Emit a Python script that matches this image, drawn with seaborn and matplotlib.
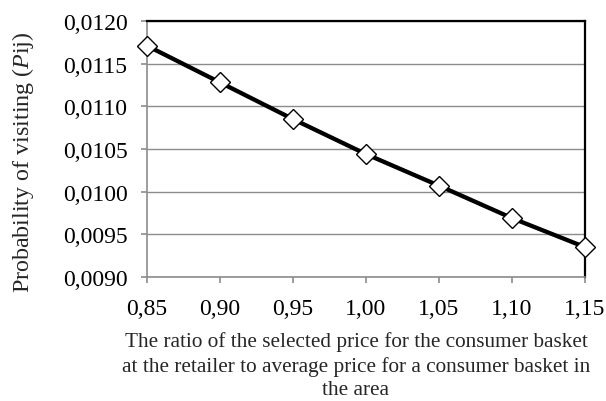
import matplotlib
matplotlib.use("Agg")
import matplotlib.pyplot as plt
import seaborn as sns
import pandas as pd
from matplotlib.ticker import FuncFormatter, MultipleLocator

price_ratio = [0.85, 0.90, 0.95, 1.00, 1.05, 1.10, 1.15]
probability = [0.01171, 0.01128, 0.01085, 0.01044, 0.01007, 0.00969, 0.00935]

sns.set_theme(style="white")
plt.rcParams['font.family'] = ['Liberation Serif', 'DejaVu Serif']
plt.rcParams['mathtext.fontset'] = 'custom'
plt.rcParams['mathtext.it'] = 'Liberation Serif:italic'
plt.rcParams['mathtext.rm'] = 'Liberation Serif'

df = pd.DataFrame({"ratio": price_ratio, "prob": probability})

fig = plt.figure(figsize=(6.06, 4.02), dpi=100)
ax = fig.add_axes([147/606, 1 - 278/402, (585-147)/606, (278-22)/402])

sns.lineplot(data=df, x="ratio", y="prob", ax=ax, color="black", linewidth=3.1,
             marker="D", markersize=10.2, markerfacecolor="white",
             markeredgecolor="black", markeredgewidth=1.0, zorder=3,
             clip_on=False)

ax.set_xlim(0.85, 1.15)
ax.set_ylim(0.0090, 0.0120)
ax.xaxis.set_major_locator(MultipleLocator(0.05))
ax.yaxis.set_major_locator(MultipleLocator(0.0005))
ax.xaxis.set_major_formatter(FuncFormatter(lambda v, p: f"{v:.2f}".replace(".", ",")))
ax.yaxis.set_major_formatter(FuncFormatter(lambda v, p: f"{v:.4f}".replace(".", ",")))
ax.grid(axis="y", color="#8c8c8c", linewidth=1.0)
ax.set_axisbelow(True)

for s in ["left", "bottom"]:
    ax.spines[s].set_color("#8c8c8c")
    ax.spines[s].set_linewidth(1.2)
for s in ["top", "right"]:
    ax.spines[s].set_color("black")
    ax.spines[s].set_linewidth(1.6)

ax.tick_params(axis="both", which="major", direction="out", length=4, width=1.2,
               color="#8c8c8c", labelsize=17, labelcolor="black",
               bottom=True, left=True)
ax.tick_params(axis="x", pad=11)
ax.tick_params(axis="y", pad=10)

ax.set_xlabel("The ratio of the selected price for the consumer basket\n"
              "at the retailer to average price for a consumer basket in\n"
              "the area", fontsize=15.3, linespacing=1.32)
ax.xaxis.set_label_coords((356-147)/438, -0.212, transform=ax.transAxes)
ax.xaxis.label.set_va("top")
ax.set_ylabel(r"Probability of visiting ($\mathit{P}$ij)", fontsize=17.3)
ax.yaxis.set_label_coords(23/606, 1 - 162.5/402, transform=fig.transFigure)
ax.yaxis.label.set_va("center")

fig.savefig("out.png", dpi=100)
